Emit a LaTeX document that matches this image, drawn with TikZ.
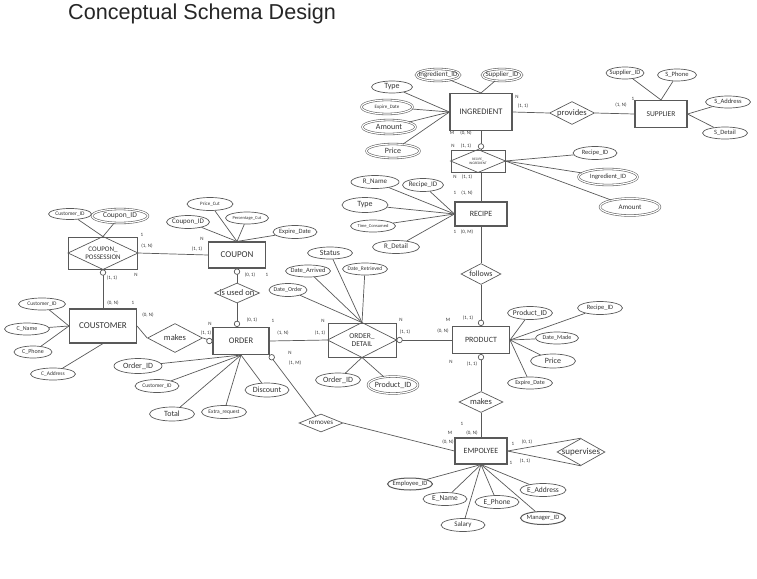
\documentclass[tikz,border=0pt]{standalone}
\usepackage{fontspec}
\setmainfont{Carlito}
\newfontfamily\titlefont{Liberation Sans}
\usepackage{tikz}
\usetikzlibrary{shapes.geometric}
\definecolor{linegray}{HTML}{595959}
\definecolor{textgray}{HTML}{333333}
\newcommand{\attrtext}[1]{\makebox[0pt]{#1}}
\tikzset{
  sz/.style 2 args={minimum width=#1, minimum height=#2},
  entity/.style={rectangle, draw=linegray, line width=1.1pt, text=textgray, inner sep=0pt, font=\fontsize{8.5}{9}\selectfont},
  assoc/.style={entity, line width=0.9pt, align=center},
  attr/.style={ellipse, draw=linegray, line width=0.7pt, inner sep=0pt, text=textgray, font=\fontsize{8}{9}\selectfont},
  keyattr/.style={attr, double=white, double distance=1.2pt, line width=0.55pt},
  smallattr/.style={attr, font=\fontsize{6.5}{7}\selectfont},
  tinyattr/.style={attr, font=\fontsize{5.5}{6}\selectfont},
  rel/.style={diamond, draw=linegray, line width=0.7pt, inner sep=0pt, text=textgray, font=\fontsize{8.5}{9}\selectfont},
  card/.style={text=textgray, inner sep=0pt, font=\fontsize{5}{5}\selectfont},
  opt/.style={circle, draw=linegray, fill=white, line width=0.7pt, minimum size=5.5pt, inner sep=0pt},
  link/.style={draw=linegray, line width=0.7pt},
}
\begin{document}
\begin{tikzpicture}[x=1pt, y=-1pt]
  \useasboundingbox (0,0) rectangle (757,578);

  % Title
  \node[anchor=base west, inner sep=0pt, text=black!85, font=\titlefont\fontsize{21.6}{24}\selectfont] (title) at (68,20) {Conceptual Schema Design};

  % Entities
  \node[entity, sz={62}{37}] (ingredient) at (481,112) {INGREDIENT};
  \node[entity, sz={52}{27}, font=\fontsize{7.5}{8}\selectfont] (supplier) at (661,114) {SUPPLIER};
  \node[entity, sz={52}{24}, font=\fontsize{8}{9}\selectfont] (recipe) at (481,214) {RECIPE};
  \node[entity, sz={57}{26}, font=\fontsize{9}{10}\selectfont] (coupon) at (237,255) {COUPON};
  \node[entity, sz={67}{34}, font=\fontsize{9}{10}\selectfont] (customer) at (103,326) {COUSTOMER};
  \node[entity, sz={56}{27}, font=\fontsize{8.5}{9}\selectfont] (order) at (241,341) {ORDER};
  \node[entity, sz={57}{27}, font=\fontsize{8}{9}\selectfont] (product) at (481,340) {PRODUCT};
  \node[entity, sz={52}{26}, font=\fontsize{8}{9}\selectfont] (employee) at (481,451) {EMPOLYEE};

  % Associative entities
  \node[assoc, sz={54}{22}, font=\fontsize{3.5}{3.8}\selectfont] (recing) at (478,161) {RECIPE\_\\INGREDIENT};
  \node[assoc, sz={69}{32}, font=\fontsize{7}{7.5}\selectfont] (possession) at (103,253) {COUPON\_\\POSSESSION};
  \node[assoc, sz={68}{34}, font=\fontsize{7.5}{8.5}\selectfont] (orderdetail) at (362,340) {ORDER\_\\DETAIL};
  \foreach \n in {recing, possession, orderdetail}
    \draw[link] (\n.north) -- (\n.east) -- (\n.south) -- (\n.west) -- cycle;

  % Relationships
  \node[rel, sz={45}{23}] (provides) at (572,113) {\attrtext{provides}};
  \node[rel, sz={40}{21}, font=\fontsize{8}{9}\selectfont] (follows) at (481,274) {\attrtext{follows}};
  \node[rel, sz={45}{20}] (usedon) at (237,293) {\attrtext{is used on}};
  \node[rel, sz={55}{29}] (makescust) at (175,338) {\attrtext{makes}};
  \node[rel, sz={44}{21}] (makesprod) at (481,402) {\attrtext{makes}};
  \node[rel, sz={44}{18}, font=\fontsize{7}{8}\selectfont] (removes) at (321,423) {\attrtext{removes}};
  \node[rel, sz={48}{27}, font=\fontsize{9}{10}\selectfont] (supervises) at (581,452) {\attrtext{supervises}};

  % Attributes of INGREDIENT
  \node[keyattr, sz={44}{12}, font=\fontsize{7}{8}\selectfont] (ing-id) at (438,75) {\attrtext{Ingredient\_ID}};
  \node[keyattr, sz={40}{12}, font=\fontsize{7}{8}\selectfont] (ing-sup) at (502,75) {\attrtext{Supplier\_ID}};
  \node[attr, sz={41}{12}] (ing-type) at (392,87) {\attrtext{Type}};
  \node[keyattr, sz={51}{14}, font=\fontsize{5}{6}\selectfont] (ing-exp) at (387,107) {\attrtext{Expire\_Date}};
  \node[keyattr, sz={53}{14}] (ing-amt) at (389,127) {\attrtext{Amount}};
  \node[keyattr, sz={53}{14}] (ing-price) at (393,151) {\attrtext{Price}};

  % Attributes of SUPPLIER
  \node[smallattr, sz={38}{12}] (sup-id) at (625,73) {\attrtext{Supplier\_ID}};
  \node[smallattr, sz={39}{12}] (sup-phone) at (677,75) {\attrtext{S\_Phone}};
  \node[smallattr, sz={45}{12}] (sup-addr) at (728,102) {\attrtext{S\_Address}};
  \node[smallattr, sz={45}{12}] (sup-detail) at (725,133) {\attrtext{S\_Detail}};

  % Attributes of RECIPE_INGREDIENT
  \node[smallattr, sz={44}{13}] (ri-recipe) at (595,153) {\attrtext{Recipe\_ID}};
  \node[keyattr, sz={59}{16}, font=\fontsize{6.5}{7}\selectfont] (ri-ing) at (608,177) {\attrtext{Ingredient\_ID}};
  \node[keyattr, sz={60}{17}, font=\fontsize{7}{8}\selectfont] (ri-amt) at (630,207) {\attrtext{Amount}};

  % Attributes of RECIPE
  \node[smallattr, sz={48}{13}, font=\fontsize{7}{8}\selectfont] (rec-name) at (375,182) {\attrtext{R\_Name}};
  \node[smallattr, sz={41}{13}, font=\fontsize{7}{8}\selectfont] (rec-id) at (423,185) {\attrtext{Recipe\_ID}};
  \node[attr, sz={46}{15}] (rec-type) at (365,205) {\attrtext{Type}};
  \node[tinyattr, sz={45}{12}, font=\fontsize{4.5}{5}\selectfont] (rec-time) at (373,226) {\attrtext{Time\_Consumed}};
  \node[smallattr, sz={47}{13}, font=\fontsize{7}{8}\selectfont] (rec-detail) at (396,247) {\attrtext{R\_Detail}};

  % Attributes of COUPON_POSSESSION
  \node[tinyattr, sz={43}{11}] (pos-cust) at (70,214) {\attrtext{Customer\_ID}};
  \node[keyattr, sz={56}{14}, font=\fontsize{7.5}{8}\selectfont] (pos-coupon) at (120,216) {\attrtext{Coupon\_ID}};

  % Attributes of COUPON
  \node[tinyattr, sz={46}{13}, font=\fontsize{5}{6}\selectfont] (cou-price) at (210,204) {\attrtext{Price\_Cut}};
  \node[smallattr, sz={43}{13}, font=\fontsize{7}{8}\selectfont] (cou-id) at (188,222) {\attrtext{Coupon\_ID}};
  \node[tinyattr, sz={43}{12}, font=\fontsize{4.5}{5}\selectfont] (cou-pct) at (247,218) {\attrtext{Percentage\_Cut}};
  \node[smallattr, sz={44}{13}] (cou-exp) at (295,232) {\attrtext{Expire\_Date}};

  % Attributes of COUSTOMER
  \node[tinyattr, sz={47}{12}] (cus-id) at (42,304) {\attrtext{Customer\_ID}};
  \node[smallattr, sz={45}{12}, font=\fontsize{6}{7}\selectfont] (cus-name) at (27,329) {\attrtext{C\_Name}};
  \node[smallattr, sz={38}{12}, font=\fontsize{6}{7}\selectfont] (cus-phone) at (33,352) {\attrtext{C\_Phone}};
  \node[tinyattr, sz={45}{12}] (cus-addr) at (53,374) {\attrtext{C\_Address}};

  % Attributes of ORDER
  \node[attr, sz={48}{15}] (ord-id) at (138,366) {\attrtext{Order\_ID}};
  \node[tinyattr, sz={44}{13}] (ord-cust) at (157,386) {\attrtext{Customer\_ID}};
  \node[attr, sz={45}{14}] (ord-total) at (172,414) {\attrtext{Total}};
  \node[tinyattr, sz={45}{13}] (ord-extra) at (224,412) {\attrtext{Extra\_request}};
  \node[attr, sz={44}{14}] (ord-disc) at (267,390) {\attrtext{Discount}};

  % Attributes of ORDER_DETAIL
  \node[attr, sz={45}{12}] (od-status) at (330,253) {\attrtext{Status}};
  \node[smallattr, sz={45}{12}] (od-arrived) at (308,271) {\attrtext{Date\_Arrived}};
  \node[tinyattr, sz={45}{12}] (od-retrieved) at (365,269) {\attrtext{Date\_Retrieved}};
  \node[smallattr, sz={38}{13}, font=\fontsize{6}{7}\selectfont] (od-order) at (288,290) {\attrtext{Date\_Order}};
  \node[attr, sz={45}{14}] (od-orderid) at (338,380) {\attrtext{Order\_ID}};
  \node[keyattr, sz={50}{17}] (od-product) at (393,385) {\attrtext{Product\_ID}};

  % Attributes of PRODUCT
  \node[attr, sz={45}{13}, font=\fontsize{7.5}{8}\selectfont] (pro-id) at (530,313) {\attrtext{Product\_ID}};
  \node[smallattr, sz={45}{13}] (pro-recipe) at (600,308) {\attrtext{Recipe\_ID}};
  \node[smallattr, sz={43}{12}, font=\fontsize{6}{7}\selectfont] (pro-made) at (557,338) {\attrtext{Date\_Made}};
  \node[attr, sz={45}{14}] (pro-price) at (553,361) {\attrtext{Price}};
  \node[smallattr, sz={45}{12}, font=\fontsize{6}{7}\selectfont] (pro-exp) at (530,383) {\attrtext{Expire\_Date}};

  % Attributes of EMPOLYEE
  \node[smallattr, sz={45}{12}, line width=1pt] (emp-id) at (410,484) {\attrtext{Employee\_ID}};
  \node[attr, sz={44}{13}, font=\fontsize{7.5}{8}\selectfont] (emp-name) at (445,499) {\attrtext{E\_Name}};
  \node[attr, sz={44}{13}, font=\fontsize{7.5}{8}\selectfont] (emp-phone) at (497,502) {\attrtext{E\_Phone}};
  \node[attr, sz={46}{13}, font=\fontsize{7.5}{8}\selectfont] (emp-addr) at (543,490) {\attrtext{E\_Address}};
  \node[attr, sz={44}{13}, font=\fontsize{7}{8}\selectfont] (emp-salary) at (463,525) {\attrtext{Salary}};
  \node[smallattr, sz={45}{13}, line width=1pt] (emp-mgr) at (543,518) {\attrtext{Manager\_ID}};

  % Attribute links
  \foreach \a in {ing-id, ing-sup} \draw[link] (\a) -- (ingredient.north);
  \foreach \a in {ing-type, ing-exp, ing-amt, ing-price} \draw[link] (\a) -- (ingredient.west);
  \foreach \a in {sup-id, sup-phone} \draw[link] (\a) -- (supplier.north);
  \foreach \a in {sup-addr, sup-detail} \draw[link] (\a) -- (supplier.east);
  \foreach \a in {ri-recipe, ri-ing, ri-amt} \draw[link] (\a) -- (recing.east);
  \foreach \a in {rec-name, rec-id, rec-type, rec-time, rec-detail} \draw[link] (\a) -- (recipe.west);
  \foreach \a in {pos-cust, pos-coupon} \draw[link] (\a) -- (possession.north);
  \foreach \a in {cou-price, cou-id, cou-pct, cou-exp} \draw[link] (\a) -- (coupon.north);
  \foreach \a in {cus-id, cus-name, cus-phone} \draw[link] (\a) -- (customer.west);
  \draw[link] (cus-addr) -- (customer.south);
  \foreach \a in {ord-id, ord-cust, ord-total, ord-extra, ord-disc} \draw[link] (\a) -- (order.south);
  \foreach \a in {od-status, od-arrived, od-retrieved, od-order} \draw[link] (\a) -- (orderdetail.north);
  \foreach \a in {od-orderid, od-product} \draw[link] (\a) -- (orderdetail.south);
  \foreach \a in {pro-id, pro-recipe, pro-made, pro-price, pro-exp} \draw[link] (\a) -- (product.east);
  \foreach \a in {emp-id, emp-name, emp-phone, emp-addr, emp-salary, emp-mgr} \draw[link] (\a) -- (employee.south);

  % Relationship links
  \draw[link] (ingredient.east) -- (provides.west);
  \draw[link] (provides.east) -- (supplier.west);
  \draw[link] (ingredient.south) -- (ingredient.south |- recing.north);
  \draw[link] (recing.south -| recipe.north) -- (recipe.north);
  \draw[link] (recipe.south) -- (follows.north);
  \draw[link] (follows.south) -- (product.north);
  \draw[link] (orderdetail.east) -- (product.west);
  \draw[link] (order.east) -- (orderdetail.west);
  \draw[link] (customer.east) -- (makescust.west);
  \draw[link] (makescust.east) -- (order.west);
  \draw[link] (possession.south) -- (customer.north);
  \draw[link] (possession.east) -- (coupon.west);
  \draw[link] (coupon.south) -- (usedon.north);
  \draw[link] (usedon.south) -- (usedon.south |- order.north);
  \draw[link] (order.south east) -- (removes);
  \draw[link] (removes.east) -- (employee.west);
  \draw[link] (product.south) -- (makesprod.north);
  \draw[link] (makesprod.south) -- (employee.north);
  \draw[link] (employee.east) -- (supervises.north);
  \draw[link] (employee.east) -- (supervises.south);

  % Participation circles
  \node[opt, anchor=south] (opt-ri) at (ingredient.south |- recing.north) {};
  \node[opt, anchor=north] (opt-pos) at (possession.south) {};
  \node[opt, anchor=north] (opt-cou) at (coupon.south) {};
  \node[opt, anchor=south] (opt-ordtop) at (usedon.south |- order.north) {};
  \node[opt, anchor=east] (opt-ordwest) at (order.west) {};
  \node[opt, anchor=north west, inner sep=0pt] (opt-ordse) at (order.south east) {};
  \node[opt, anchor=west] (opt-od) at (orderdetail.east) {};
  \node[opt, anchor=south] (opt-protop) at (product.north) {};
  \node[opt, anchor=north] (opt-probot) at (product.south) {};

  % Cardinalities
  \foreach \cx/\cy/\ct [count=\i] in {
      517/97/N, 523/106/{(1, 1)}, 633/99/1, 621/105/{(1, N)},
      452/133/M, 466/133/{(0, N)}, 453/146/N, 466/146/{(1, 1)},
      455/177/N, 467/177/{(1, 1)}, 455/193/1, 467/193/{(1, N)},
      455/232/1, 467/232/{(0, M)},
      448/320/M, 468/318/{(1, 1)}, 443/331/{(0, N)},
      401/320/N, 405/332/{(1, 1)},
      273/321/1, 283/333/{(1, N)}, 323/321/N, 320/333/{(1, 1)},
      148/315/{(0, N)}, 210/324/N, 206/333/{(1, 1)},
      112/278/{(1, 1)}, 136/275/N, 113/303/{(0, N)}, 133/303/1,
      142/235/1, 147/246/{(1, N)}, 202/239/N, 197/249/{(1, 1)},
      250/275/{(0, 1)}, 267/275/1, 252/320/{(0, 1)},
      290/353/N, 295/363/{(1, M)},
      450/433/M, 448/442/{(0, N)},
      451/362/N, 472/364/{(1, 1)},
      462/424/1, 472/433/{(0, N)},
      513/444/1, 527/442/{(0, 1)}, 511/463/1, 525/461/{(1, 1)}}
    \node[card] (card\i) at (\cx,\cy) {\ct};
\end{tikzpicture}
\end{document}
